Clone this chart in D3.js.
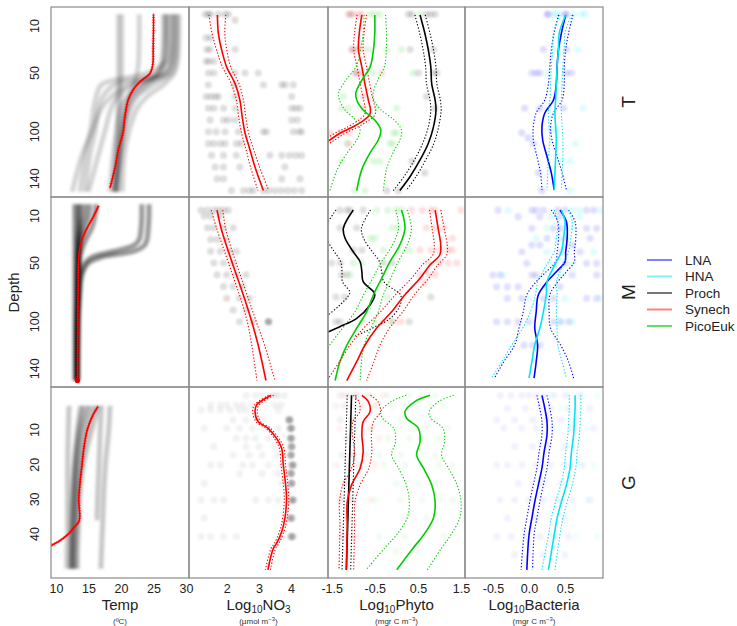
<!DOCTYPE html>
<html><head><meta charset="utf-8">
<script src="https://cdn.jsdelivr.net/npm/d3@7"></script>
<style>body{margin:0;background:#fff}svg{font-family:"Liberation Sans",Arial,Helvetica,sans-serif}</style>
</head><body><svg id="c" width="737" height="626"></svg>
<script>
// ================= DATA =================
const rowNames = ["T","M","G"];
const legendNames = ["LNA","HNA","Proch","Synech","PicoEuk"];
const tempTicks = [10,15,20,25,30];
const no3Ticks = [2,3,4];
const phytoTicks = [-1.5,-0.5,0.5,1.5];
const bactTicks = [-0.5,0.0,0.5];
const depthTicksTM = [10,50,100,140];
const depthTicksG = [10,20,30,40];

// ---- Row T : temperature profiles
const tempT_depth = [0,20,40,50,60,70,80,100,120,151];
const tempT_profiles = [
  [20.1,20.1,20.1,20.1,20.0,20.0,19.9,19.8,19.6,19.4],
  [19.6,19.6,19.6,19.6,19.6,19.5,19.5,19.4,19.2,19.0],
  [22.8,22.8,22.7,22.5,22.0,21.3,20.8,20.2,19.7,19.0],
  [26.8,26.8,26.5,25.5,23.0,21.5,20.8,20.0,19.5,18.8],
  [27.3,27.3,27.0,24.0,17.0,16.2,15.8,15.3,14.5,13.7],
  [28.0,28.0,27.8,27.0,21.0,18.5,17.0,15.5,14.0,12.5],
  [28.6,28.6,28.4,27.8,25.0,22.5,21.5,20.5,20.0,19.5],
  [28.9,28.9,28.7,28.2,26.5,24.0,22.5,21.2,20.5,20.2],
  [27.8,27.8,27.5,26.5,22.0,19.5,18.5,17.5,16.5,15.0],
  [26.5,26.5,26.3,25.8,24.0,22.0,21.0,20.3,19.8,19.2],
  [28.3,28.3,28.0,27.2,23.5,21.0,20.0,19.3,18.8,18.3],
  [27.0,27.0,26.8,26.0,19.0,17.2,16.5,16.0,15.2,14.5]
];
const tempT_meanDepth = [0.6,10,30,42,50,57.5,64,73,87,101,115,130,148];
const tempT_mean = [25.0,25.0,24.95,24.9,24.5,22.9,21.9,21.1,20.6,20.3,19.6,19.1,18.3];

// ---- Row M : temperature profiles
const tempM_depth = [0,10,20,30,35,40,45,50,60,80,100,150];
const tempM_profiles = [
  [13.4,13.4,13.4,13.3,13.3,13.3,13.3,13.3,13.3,13.3,13.2,13.2],
  [13.8,13.7,13.6,13.5,13.5,13.4,13.4,13.4,13.3,13.3,13.3,13.2],
  [14.5,14.3,13.9,13.6,13.5,13.5,13.4,13.4,13.4,13.3,13.3,13.3],
  [15.2,15.0,14.5,13.9,13.7,13.6,13.5,13.5,13.4,13.4,13.3,13.3],
  [16.2,16.0,15.5,14.6,14.2,13.9,13.7,13.6,13.5,13.4,13.3,13.3],
  [12.9,12.9,12.9,12.9,12.9,12.9,12.9,12.9,12.9,12.9,12.9,12.9],
  [24.3,24.3,24.2,24.0,23.6,22.0,17.0,15.0,14.0,13.6,13.4,13.3],
  [23.2,23.2,23.1,22.8,22.0,19.0,15.5,14.5,13.8,13.5,13.4,13.3]
];
const tempM_meanDepth = [2,10,20,30,40,50,70,100,150];
const tempM_mean = [16.5,15.8,14.8,14.0,13.6,13.45,13.4,13.35,13.3];

// ---- Row G : temperature profiles
const tempG_depth = [3,10,20,30,36,40,45,50];
const tempG_profiles = [
  [16.5,15.5,14.2,13.6,13.5,13.4,13.3,13.3],
  [16.0,14.8,13.8,13.3,13.2,13.1,13.0,13.0],
  [15.3,14.2,13.4,13.0,12.9,12.8,12.7,12.7],
  [14.8,13.8,13.1,12.8,12.7,12.6,12.5,12.5],
  [14.2,13.5,12.9,12.6,12.5,12.4,12.4,12.3],
  [13.8,13.3,12.8,12.5,12.4,12.4,12.3,12.3],
  [17.0,16.8,16.6,16.4,16.3,null,null,null],
  [18.3,18.1,17.6,17.3,17.2,17.1,17.0,16.9],
  [12.0,11.9,11.8,11.8,11.8,11.8,11.7,11.7]
];
const tempG_meanDepth = [3.4,6,10,15,20,25,30,35,36.5,38,40,42,43.5];
const tempG_mean = [16.4,15.6,14.8,14.3,14.0,13.7,13.5,13.65,13.5,12.8,11.9,10.5,9.0];

// ---- NO3
const no3T_depth = [0.6,16,30,45,59,73,87,101,115,130,150];
const no3T_mean = [1.71,1.74,1.84,2.00,2.26,2.41,2.48,2.57,2.72,2.88,3.14];
const no3T_ci = [0.26,0.2,0.16,0.13,0.12,0.11,0.11,0.11,0.12,0.14,0.17];
const no3T_dots = [
 [0,[1.33,1.43,1.5,1.74,1.95,2.05]],[5,[2.26]],[20,[1.36,1.5]],[30,[1.38,1.48,2.26]],
 [40,[1.36,1.45,1.6]],[50,[1.43,1.6,2.26,2.57,2.98]],[60,[1.43,2.26,3.14,3.71,3.82,4.07]],
 [70,[1.36,1.5,1.64,1.74,2.26,4.02]],[80,[1.43,1.6,1.9,2.26,4.02,4.15,4.28]],
 [90,[1.48,1.9,2.05,2.26,4.02,4.2]],[100,[1.43,1.67,1.95,2.36,3.14,3.24,4.07,4.25,4.33]],
 [110,[1.43,1.6,1.8,1.95,2.3,2.45]],[120,[1.53,1.9,2.3,3.34,3.71,3.95,4.15,4.33]],
 [130,[1.64,1.9,2.41,3.81]],[140,[1.7,1.9,3.71,4.28]],
 [150,[2.15,2.52,2.7,2.83,3.14,3.3,3.5,3.7,3.9,4.1,4.33]]
];
const no3M_depth = [5,20,40,60,80,100,120,150];
const no3M_mean = [1.7,1.82,2.05,2.3,2.55,2.78,2.98,3.22];
const no3M_ci = [0.18,0.14,0.12,0.12,0.12,0.14,0.2,0.28];
const no3M_dots = [
 [5,[1.2,1.4,1.6,1.75,1.9,2.05]],[10,[1.3,1.5,1.8]],[20,[1.4,1.6,1.9,2.2]],[30,[1.5,1.7,2.0]],
 [40,[1.5,1.8,2.1,2.3]],[50,[1.6,1.9,2.2]],[60,[1.7,2.0,2.3,2.6]],[70,[1.9,2.2,2.5]],
 [80,[2.0,2.4,2.7]],[90,[2.2,2.6]],[100,[2.4,2.8,3.3,3.3,3.3]]
];
const no3G_depth = [0,2.8,4.7,7.6,9.5,12.4,15.3,20.1,23.9,29.7,35.4,39.3,42.7,44.1,50.3];
const no3G_mean = [3.38,2.93,2.88,2.98,3.29,3.55,3.71,3.76,3.81,3.86,3.81,3.71,3.55,3.45,3.28];
const no3G_ci = [0.08,0.07,0.07,0.07,0.07,0.07,0.07,0.07,0.07,0.07,0.07,0.07,0.07,0.07,0.08];
const no3G_dots = [
 [0,[2.6,2.9,3.1,3.4,3.5,3.6,3.8]],[2.8,[1.5,1.8,2.0,2.3,2.5,2.8,3.5,3.7]],
 [4.2,[1.2,1.5,1.8,2.1,2.4,2.6,3.6]],[7.1,[2.2,2.6,3.1,3.9,4.0]],
 [9.5,[1.3,2.0,2.4,2.8,3.2,3.6,3.95,4.05]],[12.4,[2.3,2.6,2.9,3.3,3.95,4.05]],
 [14.8,[1.6,2.6,3.0,3.5,4.0]],[17.2,[2.2,2.7,3.1,3.6,4.0]],
 [20.1,[1.5,1.8,2.5,2.8,3.3,3.7,4.0,4.1]],[22.5,[2.4,3.1,3.6,4.0]],
 [25.4,[1.3,3.7,4.0]],[30.2,[1.2,1.6,1.9,2.9,3.3,3.6,4.0,4.1]],
 [35.4,[1.3,3.9,4.05]],[40.7,[1.2,1.5,1.9,2.3,3.7,4.0,4.1]]
];
const no3G_dark = [
 [7.1,[3.95]],[9.5,[4.0]],[12.4,[4.0]],[14.8,[4.02]],[17.2,[4.0]],[20.1,[4.05]],
 [22.5,[4.0]],[25.4,[4.02]],[30.2,[4.05]],[35.4,[4.0]],[40.7,[4.02]]
];

// ---- Phyto row T
const prochT_depth = [0.6,16,30,45,59,73,81.5,96,110,124,138,150];
const prochT_mean = [0.55,0.66,0.74,0.80,0.82,0.90,0.92,0.86,0.74,0.55,0.32,0.08];
const prochT_ci = [0.12,0.12,0.12,0.12,0.12,0.12,0.12,0.12,0.13,0.13,0.14,0.15];
const synT_depth = [0.6,16,30,45,59,73,81.5,85.7,90,95.7,101.3,108.5,113];
const synT_mean = [-0.80,-0.86,-0.88,-0.80,-0.73,-0.65,-0.60,-0.62,-0.75,-1.0,-1.31,-1.61,-1.85];
const synT_ci = [0.11,0.11,0.11,0.11,0.11,0.11,0.12,0.12,0.12,0.12,0.12,0.12,0.12];
const picoT_depth = [0.6,16,30,45,56,67,73,81.5,90,98.5,107,118,132,150];
const picoT_mean = [-0.50,-0.50,-0.53,-0.61,-0.80,-0.94,-0.92,-0.77,-0.50,-0.36,-0.42,-0.61,-0.80,-0.92];
const picoT_ci = [0.25,0.27,0.3,0.33,0.37,0.4,0.4,0.42,0.45,0.48,0.5,0.53,0.57,0.62];
const prochT_dots = [[0,[-1.07,0.28,0.36,0.7,0.8,0.9]],[30,[-1.0,0.32,0.86]],[50,[-0.92,0.51,0.86,0.94]],[70,[0.7]],[80,[0.9]],[125,[0.36]],[135,[0.66]],[150,[-0.22,0.05]]];
const synT_dots = [[0,[-1.11,-1.0,-0.88,-0.8]],[30,[-1.04,-0.92,-0.8]],[50,[-0.96,-0.85,-0.34]],[70,[-0.77]],[80,[-0.77]],[101,[-1.54,-1.3,-1.1]],[110,[-1.11]]];
const picoT_dots = [[0,[-0.61,-0.5,-0.38,0.55]],[30,[-0.65,-0.22,0.12]],[50,[-0.53,0.39]],[70,[-1.23]],[80,[-1.27,-1.11,-0.46,0.01]],[101,[-0.07,0.01]],[110,[-1.15,-0.15,-0.07]],[125,[-1.27,-0.53,-0.38]],[150,[-0.96,-0.73]]];

// ---- Phyto row M
const prochM_depth = [4.9,20.5,29,40.4,48.9,57.4,65.9,74.4,77.2,85.7,97.1,104.2,108.5,112];
const prochM_mean = [-1.0,-1.23,-1.19,-1.0,-0.84,-0.80,-0.77,-0.53,-0.50,-0.61,-0.92,-1.31,-1.58,-1.8];
const prochM_ci = [0.4,0.42,0.43,0.44,0.45,0.46,0.48,0.55,0.6,0.7,0.78,0.82,0.85,0.85];
const synM_depth = [4.9,20.5,34.7,43,51.7,63,77,91.5,105.5,120,134,150];
const synM_mean = [0.90,0.97,1.03,1.01,0.78,0.55,0.20,-0.11,-0.46,-0.73,-0.92,-1.15];
const synM_ci = [0.13,0.14,0.15,0.16,0.18,0.2,0.22,0.26,0.3,0.35,0.4,0.46];
const picoM_depth = [4.9,20.5,34.7,49,63,77,91.5,105.5,120,134,150];
const picoM_mean = [0.12,0.20,0.08,-0.15,-0.34,-0.53,-0.69,-0.92,-1.15,-1.31,-1.42];
const picoM_ci = [0.13,0.15,0.17,0.19,0.21,0.23,0.27,0.33,0.4,0.5,0.58];
const prochM_dots = [[5,[-1.31,-1.15,-1.07,-0.77]],[20,[-1.31,-0.92]],[39,[-1.0,-0.8]],[50,[-1.5,-1.3,-0.3,-0.1]],[60,[-1.27,-1.15]],[79,[-1.4,-1.2,0.8]],[100,[-1.4,-1.3,0.3]]];
const synM_dots = [[5,[0.35,0.6,0.8,0.9,1.5]],[20,[0.7,0.9,1.1]],[29,[1.3]],[39,[0.55,0.8,1.0,1.2,1.3]],[50,[0.75,1.0,1.2,1.4]],[60,[0.55,0.75,0.9]],[67,[0.65]],[100,[-0.3,-0.1,0.1]]];
const picoM_dots = [[5,[-0.46,-0.2,0.0,0.12]],[20,[-0.1,0.05]],[29,[-0.6,-0.5]],[39,[-0.3,0.05,0.3]],[50,[-1.0,-0.8]],[60,[-1.07]],[79,[-0.2]],[100,[-0.8,-0.5,-0.1]]];

// ---- Phyto row G
const prochG_depth = [0,25,50.3];
const prochG_mean = [-1.04,-1.10,-1.16];
const prochG_ci = [0.1,0.1,0.1];
const synG_depth = [0,1.8,4.7,7.6,11.4,16.3,21,25.8,30.7,37.4,44,50.3];
const synG_mean = [-0.80,-0.65,-0.61,-0.77,-0.80,-0.77,-0.84,-1.04,-1.14,-1.14,-1.15,-1.16];
const synG_ci = [0.2,0.22,0.24,0.24,0.22,0.2,0.2,0.2,0.18,0.17,0.17,0.17];
const picoG_depth = [0,1.8,4.7,6.6,9.5,13.4,17.2,21,25.8,30.7,35.4,40.3,44,50.3];
const picoG_mean = [0.78,0.43,0.20,0.24,0.51,0.55,0.47,0.63,0.82,0.90,0.86,0.63,0.39,0.01];
const picoG_ci = [0.55,0.55,0.56,0.56,0.57,0.57,0.58,0.58,0.59,0.6,0.61,0.63,0.66,0.71];
const prochG_dots = [[0,[-1.3,-1.1,-0.95]],[3,[-1.2,-1.0]],[7.1,[-1.3,-1.05]],[12.4,[-1.15]],[17.2,[-1.25,-1.0]],[20.1,[-1.1]],[25.4,[-1.2]],[30.2,[-1.3,-1.05]],[35.4,[-1.15]],[40.7,[-1.25,-1.0]]];
const synG_dots = [[0,[-1.2,-0.9,-0.6,-0.3]],[3,[-1.4,-0.8,-0.5]],[7.1,[-1.0,-0.7]],[9.5,[-1.3,-0.6]],[12.4,[-0.9,-0.4]],[17.2,[-1.1,-0.7]],[20.1,[-1.4,-0.9,-0.5]],[25.4,[-1.2]],[30.2,[-1.3,-1.0,-0.6]],[35.4,[-1.1]],[40.7,[-1.3,-0.9]],[45,[-1.2]]];
const picoG_dots = [[0,[-0.7,-0.2,0.3,0.6,0.9]],[3,[-0.5,-0.1,0.2,0.5,0.8,1.1]],[7.1,[-0.3,0.1,0.45,0.9]],[9.5,[-0.6,0.0,0.4,0.7,1.2]],[12.4,[-0.2,0.3,0.6,1.0]],[17.2,[-0.4,0.1,0.5,0.9]],[20.1,[-0.8,-0.3,0.2,0.6,1.0,1.3]],[25.4,[0.0,0.5,0.9]],[30.2,[-0.5,0.1,0.6,1.0,1.3]],[35.4,[0.2,0.7]],[40.7,[-0.4,0.2,0.6,1.1]],[45,[0.0,0.5]]];

// ---- Bacteria
const bactT_depth = [0.6,16,30,44.6,58.8,73,84,95.7,107,121,135,149.6];
const lnaT_mean = [0.51,0.45,0.41,0.39,0.38,0.34,0.22,0.18,0.19,0.25,0.31,0.35];
const lnaT_ci = [0.1,0.1,0.1,0.1,0.11,0.12,0.12,0.12,0.13,0.14,0.15,0.17];
const hnaT_mean = [0.51,0.42,0.41,0.39,0.38,0.37,0.36,0.37,0.38,0.37,0.36,0.35];
const hnaT_ci = [0.08,0.08,0.08,0.08,0.08,0.08,0.09,0.09,0.09,0.1,0.1,0.1];
const lnaT_dots = [[0,[0.25,0.27,0.51,0.51]],[30,[0.2,0.52]],[50,[0.04,0.1,0.15,0.52,0.59]],[80,[-0.06,0.15,0.48]],[101,[-0.1]],[105,[-0.01]],[110,[0.06]],[135,[0.13]],[150,[0.18]]];
const hnaT_dots = [[0,[0.34,0.38,0.43,0.62,0.73,0.78]],[30,[0.38,0.68]],[50,[0.25]],[80,[0.27,0.75]],[98,[0.29,0.38]],[110,[0.64]],[125,[0.43,0.57]],[150,[0.57]]];
const bactM_depth = [4.9,14.9,29,40.4,49,57.4,66,77,91.5,105.6,119.8,134,148];
const lnaM_mean = [0.43,0.52,0.53,0.51,0.50,0.38,0.25,0.13,0.10,0.08,0.12,0.10,0.07];
const lnaM_ci = [0.12,0.12,0.12,0.12,0.13,0.14,0.15,0.16,0.18,0.22,0.32,0.45,0.55];
const hnaM_mean = [0.45,0.50,0.48,0.45,0.38,0.31,0.25,0.24,0.20,0.15,0.08,0.04,0.0];
const hnaM_ci = [0.1,0.1,0.1,0.1,0.11,0.12,0.13,0.15,0.18,0.24,0.32,0.42,0.52];
const lnaM_dots = [[5,[-0.43,0.04,0.1,0.2,0.4,0.5,0.8,0.9]],[10.6,[-0.15,0.15,0.43]],[20.5,[0.04,0.34,0.45,0.8,0.94]],[29,[0.25,0.5,0.85]],[34.7,[0.04,0.15,0.6]],[40.4,[-0.1,0.45,0.71]],[50.3,[-0.03,0.5,0.8,0.94]],[60.2,[-0.5,-0.4,0.04,0.1,0.6,0.94]],[70.2,[-0.45,-0.3,-0.15,0.25,0.43]],[80.1,[-0.3,-0.1,0.2,0.34,0.8,0.94]],[100,[-0.45,-0.3,-0.15,0.0,0.34,0.43,0.55]],[119.9,[-0.07,0.05,0.15]]];
const hnaM_dots = [[5,[-0.29,0.6,0.7,1.0]],[10.6,[0.3,0.7]],[20.5,[0.25,0.6]],[29,[0.1,0.4]],[40.4,[0.25,0.9]],[50.3,[0.3,0.6]],[60.2,[-0.36,0.45]],[80.1,[0.0,0.5,1.0]],[100,[0.45,0.6]]];
const bactG_depth = [0,3.8,7.6,11.4,16.3,21,25.8,30.7,35.4,40.3,50.3];
const lnaG_mean = [0.18,0.22,0.25,0.25,0.21,0.18,0.13,0.08,0.04,0.0,-0.03];
const lnaG_ci = [0.07,0.07,0.07,0.07,0.07,0.07,0.07,0.07,0.07,0.07,0.08];
const hnaG_mean = [0.64,0.64,0.63,0.62,0.59,0.57,0.52,0.45,0.39,0.35,0.27];
const hnaG_ci = [0.08,0.08,0.08,0.08,0.08,0.08,0.08,0.08,0.08,0.08,0.09];
const lnaG_dots = [[0,[-0.4,-0.25,-0.1,0.0,0.1,0.2,0.35,0.5,0.7]],[3.8,[-0.3,-0.05,0.15,0.3,0.55,0.85]],[7.1,[-0.45,-0.2,0.05,0.25,0.45,0.65]],[9.5,[-0.35,-0.1,0.1,0.3,0.6,0.9]],[14.8,[-0.2,0.05,0.25,0.5]],[20.1,[-0.45,-0.3,-0.1,0.1,0.3,0.5,0.75]],[25.4,[-0.15,0.2,0.45]],[30.2,[-0.4,-0.2,0.0,0.2,0.4,0.6,0.85]],[35.4,[-0.3,0.1,0.5]],[40.7,[-0.45,-0.25,-0.05,0.15,0.35,0.55]],[46,[-0.2,0.2,0.5]]];
const hnaG_dots = [[0,[0.3,0.55,0.75,0.95]],[3.8,[0.45,0.7]],[9.5,[0.4,0.8]],[20.1,[0.5,0.7,0.9]],[30.2,[0.45,0.8]],[40.7,[0.35,0.65,0.95]]];

// ================= LAYOUT =================
const W = 737, H = 626;
const colX = [[51,189],[189,328],[328,465],[465,603]];
const rowY = [[7,197],[197,387],[387,578]];
const svg = d3.select("#c");
const defs = svg.append("defs");
function blurFilter(id, s){
  defs.append("filter").attr("id",id).attr("filterUnits","userSpaceOnUse")
    .attr("x",0).attr("y",0).attr("width",W).attr("height",H)
    .append("feGaussianBlur").attr("stdDeviation",s);
}
blurFilter("blur",1.1); blurFilter("blur2",1.4);

const xScales = [
  d3.scaleLinear().domain([9.23,30.46]).range(colX[0]),
  d3.scaleLinear().domain([0.827,5.15]).range(colX[1]),
  d3.scaleLinear().domain([-1.586,1.593]).range(colX[2]),
  d3.scaleLinear().domain([-0.889,1.028]).range(colX[3])
];
const yScales = [
  d3.scaleLinear().domain([-6.17,155.5]).range(rowY[0]),
  d3.scaleLinear().domain([-6.17,155.5]).range(rowY[1]),
  d3.scaleLinear().domain([-2.4,52.65]).range(rowY[2])
];

const COL = {proch:"#000000", syn:"#ff0000", pico:"#00cd00", lna:"#0000ff", hna:"#00e5ee"};

const panels = [];
rowY.forEach((ry,r)=>{
  panels[r]=[];
  colX.forEach((cx,c)=>{
    const id = `clip${r}${c}`;
    defs.append("clipPath").attr("id",id).append("rect")
      .attr("x",cx[0]).attr("y",ry[0]).attr("width",cx[1]-cx[0]).attr("height",ry[1]-ry[0]);
    panels[r][c] = svg.append("g").attr("clip-path",`url(#${id})`);
  });
});

const pairs = (depth, vals) => depth.map((d,i)=>[d, vals[i]]).filter(p=>p[1]!=null);
const flat = nested => nested.flatMap(([d,vs])=>vs.map(v=>[d,v]));
const lineGen = (xs,ys) => d3.line().x(d=>xs(d[1])).y(d=>ys(d[0])).curve(d3.curveCatmullRom.alpha(0.5));

function dots(g, xs, ys, pts, color, op, r){
  g.append("g").attr("filter","url(#blur)").selectAll("circle").data(pts).join("circle")
    .attr("cx",d=>xs(d[1])).attr("cy",d=>ys(d[0])).attr("r",r||3.6)
    .attr("fill",color).attr("fill-opacity",op);
}
function smooth(g, xs, ys, depth, mean, ci, color){
  const L = lineGen(xs,ys);
  [-1,1].forEach(s=>{
    g.append("path").attr("d",L(pairs(depth, mean.map((m,i)=>m+s*ci[i]))))
      .attr("fill","none").attr("stroke",color).attr("stroke-width",1.1)
      .attr("stroke-dasharray","1.3,1.9");
  });
  g.append("path").attr("d",L(pairs(depth,mean))).attr("fill","none")
    .attr("stroke",color).attr("stroke-width",1.6);
}
function profiles(g, xs, ys, depth, profs, op, w){
  const L = lineGen(xs,ys);
  const gg = g.append("g").attr("filter","url(#blur2)");
  profs.forEach(p=>{
    gg.append("path").attr("d",L(pairs(depth,p))).attr("fill","none")
      .attr("stroke","#000").attr("stroke-opacity",op).attr("stroke-width",w)
      .attr("stroke-linecap","butt");
  });
}
function meanTemp(g, xs, ys, depth, mean, endDot){
  const L = lineGen(xs,ys);
  const p = g.append("path").attr("d",L(pairs(depth,mean))).attr("fill","none")
    .attr("stroke","#ff0000").attr("stroke-width",1.4);
  const node = p.node(), len = node.getTotalLength();
  const marks = d3.range(0,len,2.6).map(l=>node.getPointAtLength(l));
  g.append("g").selectAll("path").data(marks).join("path")
    .attr("d",d=>`M${d.x-1.6},${d.y}h3.2M${d.x},${d.y-1.6}v3.2`)
    .attr("stroke","#ff0000").attr("stroke-width",0.8).attr("stroke-opacity",0.8);
  if(endDot){
    const n = depth.length-1;
    g.append("circle").attr("cx",xs(mean[n])).attr("cy",ys(depth[n])).attr("r",2.6).attr("fill","#e00000");
  }
}

// ----- Temp column
profiles(panels[0][0], xScales[0], yScales[0], tempT_depth, tempT_profiles, 0.17, 5);
meanTemp(panels[0][0], xScales[0], yScales[0], tempT_meanDepth, tempT_mean);
profiles(panels[1][0], xScales[0], yScales[1], tempM_depth, tempM_profiles, 0.4, 5);
meanTemp(panels[1][0], xScales[0], yScales[1], tempM_meanDepth, tempM_mean, true);
profiles(panels[2][0], xScales[0], yScales[2], tempG_depth, tempG_profiles, 0.22, 5);
meanTemp(panels[2][0], xScales[0], yScales[2], tempG_meanDepth, tempG_mean);

// ----- NO3 column
dots(panels[0][1], xScales[1], yScales[0], flat(no3T_dots), "#000", 0.13);
smooth(panels[0][1], xScales[1], yScales[0], no3T_depth, no3T_mean, no3T_ci, COL.syn);
dots(panels[1][1], xScales[1], yScales[1], flat(no3M_dots), "#000", 0.13);
smooth(panels[1][1], xScales[1], yScales[1], no3M_depth, no3M_mean, no3M_ci, COL.syn);
dots(panels[2][1], xScales[1], yScales[2], flat(no3G_dots), "#000", 0.05);
dots(panels[2][1], xScales[1], yScales[2], flat(no3G_dark), "#000", 0.3);
smooth(panels[2][1], xScales[1], yScales[2], no3G_depth, no3G_mean, no3G_ci, COL.syn);

// ----- Phyto column
[[0,prochT_dots,synT_dots,picoT_dots,0.13],[1,prochM_dots,synM_dots,picoM_dots,0.12],[2,prochG_dots,synG_dots,picoG_dots,0.05]]
 .forEach(([r,a,b,c,op])=>{
  dots(panels[r][2], xScales[2], yScales[r], flat(a), COL.proch, op);
  dots(panels[r][2], xScales[2], yScales[r], flat(b), COL.syn, op);
  dots(panels[r][2], xScales[2], yScales[r], flat(c), COL.pico, op);
 });
smooth(panels[0][2], xScales[2], yScales[0], prochT_depth, prochT_mean, prochT_ci, COL.proch);
smooth(panels[0][2], xScales[2], yScales[0], synT_depth, synT_mean, synT_ci, COL.syn);
smooth(panels[0][2], xScales[2], yScales[0], picoT_depth, picoT_mean, picoT_ci, COL.pico);
smooth(panels[1][2], xScales[2], yScales[1], prochM_depth, prochM_mean, prochM_ci, COL.proch);
smooth(panels[1][2], xScales[2], yScales[1], picoM_depth, picoM_mean, picoM_ci, COL.pico);
smooth(panels[1][2], xScales[2], yScales[1], synM_depth, synM_mean, synM_ci, COL.syn);
smooth(panels[2][2], xScales[2], yScales[2], prochG_depth, prochG_mean, prochG_ci, COL.proch);
smooth(panels[2][2], xScales[2], yScales[2], synG_depth, synG_mean, synG_ci, COL.syn);
smooth(panels[2][2], xScales[2], yScales[2], picoG_depth, picoG_mean, picoG_ci, COL.pico);

// ----- Bacteria column
[[0,lnaT_dots,hnaT_dots,0.13],[1,lnaM_dots,hnaM_dots,0.12],[2,lnaG_dots,hnaG_dots,0.05]]
 .forEach(([r,a,b,op])=>{
  dots(panels[r][3], xScales[3], yScales[r], flat(a), COL.lna, op);
  dots(panels[r][3], xScales[3], yScales[r], flat(b), COL.hna, op);
 });
smooth(panels[0][3], xScales[3], yScales[0], bactT_depth, lnaT_mean, lnaT_ci, COL.lna);
smooth(panels[0][3], xScales[3], yScales[0], bactT_depth, hnaT_mean, hnaT_ci, COL.hna);
smooth(panels[1][3], xScales[3], yScales[1], bactM_depth, lnaM_mean, lnaM_ci, COL.lna);
smooth(panels[1][3], xScales[3], yScales[1], bactM_depth, hnaM_mean, hnaM_ci, COL.hna);
smooth(panels[2][3], xScales[3], yScales[2], bactG_depth, lnaG_mean, lnaG_ci, COL.lna);
smooth(panels[2][3], xScales[3], yScales[2], bactG_depth, hnaG_mean, hnaG_ci, COL.hna);

// ----- frames
rowY.forEach(ry=>colX.forEach(cx=>{
  svg.append("rect").attr("x",cx[0]).attr("y",ry[0]).attr("width",cx[1]-cx[0]).attr("height",ry[1]-ry[0])
    .attr("fill","none").attr("stroke","#8a8a8a").attr("stroke-width",1.2);
}));

// ----- axes
const axisY = 578;
const tickSets = [tempTicks, no3Ticks, phytoTicks, bactTicks];
const fmts = [d3.format("d"), d3.format("d"), d3.format(".1f"), d3.format(".1f")];
tickSets.forEach((ts,c)=>{
  const ax = d3.axisBottom(xScales[c]).tickValues(ts).tickSize(0).tickPadding(6)
    .tickFormat(v => fmts[c](v).replace("−","-"));
  const g = svg.append("g").attr("transform",`translate(0,${axisY})`).call(ax);
  g.select(".domain").remove();
  g.selectAll("text").attr("font-size",12.5).attr("fill","#222").attr("font-family","Liberation Sans, Arial, sans-serif");
});
[depthTicksTM, depthTicksTM, depthTicksG].forEach((ts,r)=>{
  svg.append("g").selectAll("text").data(ts).join("text")
    .attr("transform",d=>`translate(39,${yScales[r](d)}) rotate(-90)`)
    .attr("text-anchor","middle").attr("font-size",12.5).attr("fill","#222").text(d=>d);
});

// ----- axis titles
const titleY = 610, unitY = 624;
const centers = colX.map(c=>(c[0]+c[1])/2);
function title(cx, parts){
  const t = svg.append("text").attr("x",cx).attr("y",titleY).attr("text-anchor","middle")
    .attr("font-size",15).attr("fill","#222");
  let prevSub = false;
  parts.forEach(([s,sub])=>{
    const ts = t.append("tspan").text(s);
    if(sub){ ts.attr("font-size",10).attr("dy", prevSub ? 0 : 2.5); }
    else { ts.attr("dy", prevSub ? -2.5 : 0); }
    prevSub = !!sub;
  });
}
title(centers[0],[["Temp",0]]);
title(centers[1],[["Log",0],["10",1],["NO",0],["3",1]]);
title(centers[2],[["Log",0],["10",1],["Phyto",0]]);
title(centers[3],[["Log",0],["10",1],["Bacteria",0]]);
function unit(cx, base, sup){
  const t = svg.append("text").attr("x",cx).attr("y",unitY).attr("text-anchor","middle")
    .attr("font-size",8).attr("fill","#333").text(base);
  if(sup){ t.append("tspan").attr("dy",-3).attr("font-size",6).text(sup);
           t.append("tspan").attr("dy",3).text(")"); }
}
unit(centers[0],"(ºC)");
unit(centers[1],"(µmol m","−3");
unit(centers[2],"(mgr C m","−3");
unit(centers[3],"(mgr C m","−3");

svg.append("text").attr("transform",`translate(19,${(rowY[0][0]+rowY[2][1])/2}) rotate(-90)`)
  .attr("text-anchor","middle").attr("font-size",15).attr("fill","#222").text("Depth");

rowNames.forEach((n,r)=>{
  svg.append("text").attr("transform",`translate(635,${(rowY[r][0]+rowY[r][1])/2}) rotate(-90)`)
    .attr("text-anchor","middle").attr("font-size",19).attr("fill","#222").text(n);
});

// ----- legend
const legCols = ["#8080ff","#80f0f6","#777777","#ff8080","#66dd66"];
const lg = svg.append("g");
legendNames.forEach((n,i)=>{
  const y = 260 + i*16.5;
  lg.append("line").attr("x1",647).attr("x2",672).attr("y1",y).attr("y2",y)
    .attr("stroke",legCols[i]).attr("stroke-width",2);
  lg.append("text").attr("x",685).attr("y",y+4.5).attr("font-size",13.5).attr("fill","#222").text(n);
});
</script></body></html>
